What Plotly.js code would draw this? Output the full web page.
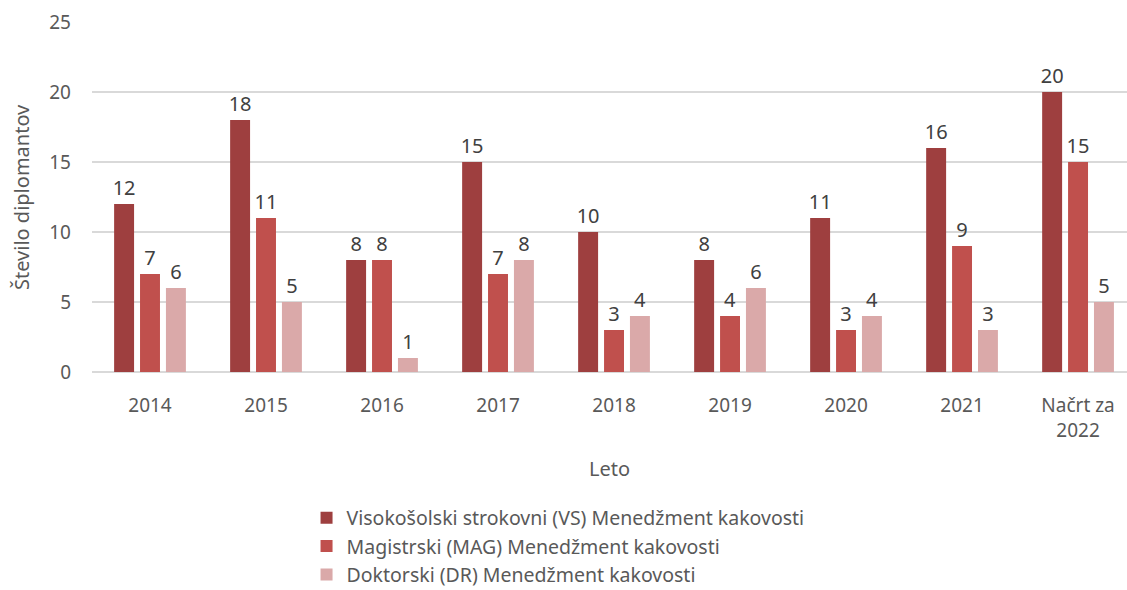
<!DOCTYPE html>
<html>
<head>
<meta charset="utf-8">
<script src="https://cdn.plot.ly/plotly-3.0.1.min.js"></script>
<style>html,body{margin:0;padding:0;background:#fff;}#chart{width:1127px;height:590px;}</style>
</head>
<body>
<div id="chart"></div>
<script>
const categories = ["2014", "2015", "2016", "2017", "2018", "2019", "2020", "2021", "Načrt za<br>2022"];
const seriesNames = [
  "Visokošolski strokovni (VS) Menedžment kakovosti",
  "Magistrski (MAG) Menedžment kakovosti",
  "Doktorski (DR) Menedžment kakovosti"
];
const vsValues = [12, 18, 8, 15, 10, 8, 11, 16, 20];
const magValues = [7, 11, 8, 7, 3, 4, 3, 9, 15];
const drValues = [6, 5, 1, 8, 4, 6, 4, 3, 5];
const colors = ["#9E3F3F", "#C0504D", "#DAA9A9"];

const FONT = "Noto Sans, Open Sans, sans-serif";
const allValues = [vsValues, magValues, drValues];
const data = allValues.map((vals, i) => ({
  type: "bar",
  name: seriesNames[i],
  x: categories,
  y: vals,
  text: vals.map(String),
  textposition: "outside",
  textangle: 0,
  constraintext: "none",
  textfont: {family: FONT, size: 20, color: "#404040"},
  cliponaxis: false,
  marker: {color: colors[i]},
  hoverinfo: "x+y"
}));

const layout = {
  width: 1127,
  height: 590,
  margin: {l: 92, r: 0, t: 22, b: 218, autoexpand: false},
  paper_bgcolor: "#ffffff",
  plot_bgcolor: "#ffffff",
  font: {family: FONT, size: 19, color: "#595959"},
  barmode: "group",
  bargap: 0.33,
  bargroupgap: 0.23,
  showlegend: true,
  legend: {
    orientation: "v",
    xref: "container", yref: "container",
    x: 0.272, y: 0.155, xanchor: "left", yanchor: "top",
    font: {family: FONT, size: 19.5, color: "#595959"},
    tracegroupgap: 0,
    itemwidth: 30
  },
  xaxis: {
    type: "category",
    range: [-0.5, 8.422],
    showgrid: false,
    zeroline: false,
    showline: false,
    ticks: "",
    tickangle: 0,
    automargin: false,
    ticklabelstandoff: 20,
    tickfont: {family: FONT, size: 19, color: "#595959"},
    title: {text: "Leto", font: {family: FONT, size: 20, color: "#595959"}, standoff: 20}
  },
  yaxis: {
    range: [0, 25],
    dtick: 5,
    tick0: 0,
    automargin: false,
    showgrid: true,
    gridcolor: "#D9D9D9",
    gridwidth: 1.3,
    zeroline: true,
    zerolinecolor: "#D9D9D9",
    zerolinewidth: 1.3,
    showline: false,
    ticks: "",
    ticklabelstandoff: 20,
    tickfont: {family: FONT, size: 19, color: "#595959"}
  },
  annotations: [{
    text: "Število diplomantov",
    xref: "paper", yref: "paper",
    x: (21 - 92) / 1035, y: 0.5,
    xanchor: "center", yanchor: "middle",
    textangle: -90,
    showarrow: false,
    font: {family: FONT, size: 20, color: "#595959"}
  }]
};

Plotly.newPlot("chart", data, layout, {displayModeBar: false, staticPlot: true});
</script>
</body>
</html>
